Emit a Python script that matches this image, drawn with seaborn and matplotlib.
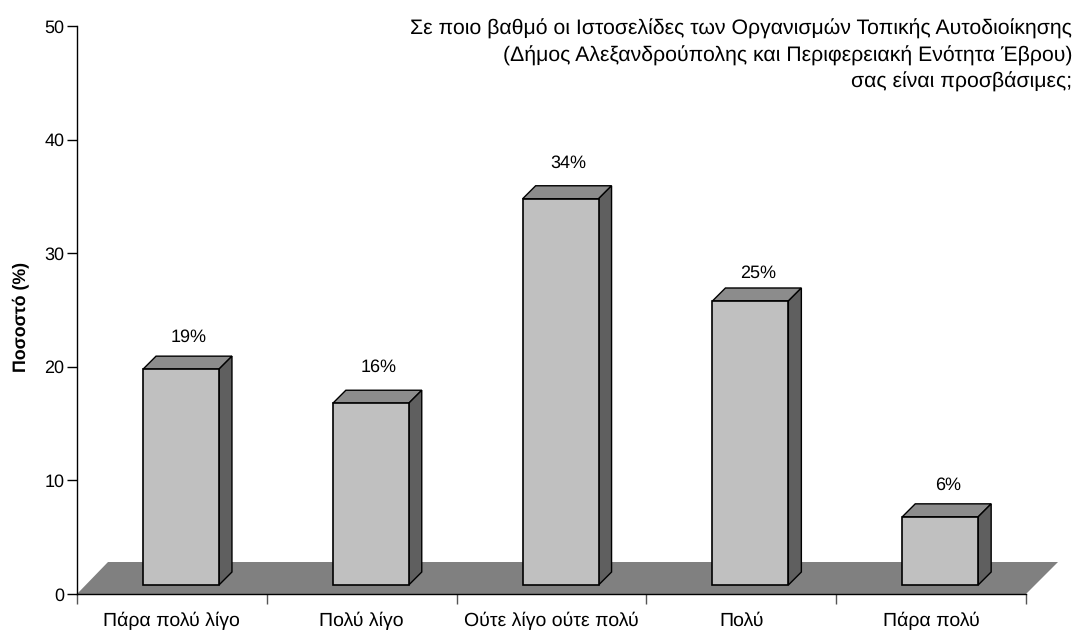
import matplotlib
matplotlib.use("Agg")
import matplotlib.pyplot as plt
from matplotlib.patches import Polygon
import seaborn as sns
import pandas as pd

categories = ["Πάρα πολύ λίγο", "Πολύ λίγο", "Ούτε λίγο ούτε πολύ", "Πολύ", "Πάρα πολύ"]
values = [19, 16, 34, 25, 6]
value_labels = ["19%", "16%", "34%", "25%", "6%"]
y_ticks = [0, 10, 20, 30, 40, 50]
title_lines = [
    "Σε ποιο βαθμό οι Ιστοσελίδες των Οργανισμών Τοπικής Αυτοδιοίκησης",
    "(Δήμος Αλεξανδρούπολης και Περιφερειακή Ενότητα Έβρου)",
    "σας είναι προσβάσιμες;",
]
label_gap_pt = [22.8, 25.8, 25.3, 20.3, 22.8]

sns.set_theme(style="ticks")
plt.rcParams["font.family"] = ["Liberation Sans", "DejaVu Sans"]
plt.rcParams["text.hinting"] = "no_hinting"

W, H = 1074, 633
fig = plt.figure(figsize=(W / 100, H / 100), dpi=100)
L, R, T, B = 77, 1026, 26, 594
ax = fig.add_axes([L / W, 1 - B / H, (R - L) / W, (B - T) / H])

PX_Y = (B - T) / 50
BASE = 9 / PX_Y
df = pd.DataFrame({"cat": categories, "val": values})
sns.barplot(data=df, x="cat", y="val", order=categories, color="#C0C0C0", saturation=1,
            width=0.40, bottom=BASE, edgecolor="black", linewidth=1.2, ax=ax, zorder=4)

x0 = -(181 - L) / ((R - L) / 5)
ax.set_xlim(x0, x0 + 5)
ax.set_ylim(0, 50)
PX_X = (R - L) / 5


def ox(p):
    return p / PX_X


def oy(p):
    return p / PX_Y


# floor
ax.add_patch(Polygon([(x0, 0), (x0 + ox(31), oy(32)), (x0 + 5 + ox(32), oy(32)), (x0 + 5, 0)],
                     closed=True, facecolor="#808080", edgecolor="none", zorder=1, clip_on=False))

# depth faces
D = 13
for bar, lab, gap in zip(ax.patches[:len(values)], value_labels, label_gap_pt):
    xl, xr = bar.get_x(), bar.get_x() + bar.get_width()
    yb, yt = bar.get_y(), bar.get_y() + bar.get_height()
    ax.add_patch(Polygon([(xl, yt), (xl + ox(D), yt + oy(D)), (xr + ox(D), yt + oy(D)), (xr, yt)],
                         closed=True, facecolor="#8C8C8C", edgecolor="black", linewidth=1.0, zorder=3, clip_on=False))
    ax.add_patch(Polygon([(xr, yb), (xr + ox(D), yb + oy(D)), (xr + ox(D), yt + oy(D)), (xr, yt)],
                         closed=True, facecolor="#5F5F5F", edgecolor="black", linewidth=1.0, zorder=3, clip_on=False))
    ax.annotate(lab, ((xl + xr) / 2, yt), xytext=(5.6, gap), textcoords="offset points",
                ha="center", va="center", fontsize=13, color="black")

sns.despine(ax=ax)
for s in ["left", "bottom"]:
    ax.spines[s].set_color("black")
    ax.spines[s].set_linewidth(1.0)
    ax.spines[s].set_zorder(5)

ax.set_yticks(y_ticks)
ax.tick_params(axis="y", length=7, width=1, color="black", labelsize=13, pad=2.2, labelcolor="black")
ax.set_xticks([x0 + i for i in range(6)])
ax.set_xticklabels([])
ax.tick_params(axis="x", which="major", length=7.5, width=1, color="#555555")
ax.set_xticks([x0 + i + 0.5 for i in range(5)], minor=True)
ax.set_xticklabels(categories, minor=True, va="baseline")
ax.tick_params(axis="x", which="minor", length=0, labelsize=14, pad=23, labelcolor="black")
ax.set_xlabel("")
ax.set_ylabel("")

fig.text(21 / W, 1 - 317 / H, "Ποσοστό (%)", rotation=90, ha="center", va="center",
         fontsize=12.75, fontweight="bold", color="black")
fig.text(1072 / W, 1 - 19 / H, "\n".join(title_lines), ha="right", va="top", fontsize=15.35,
         linespacing=1.4, color="black")

fig.savefig("out.png", dpi=100)
